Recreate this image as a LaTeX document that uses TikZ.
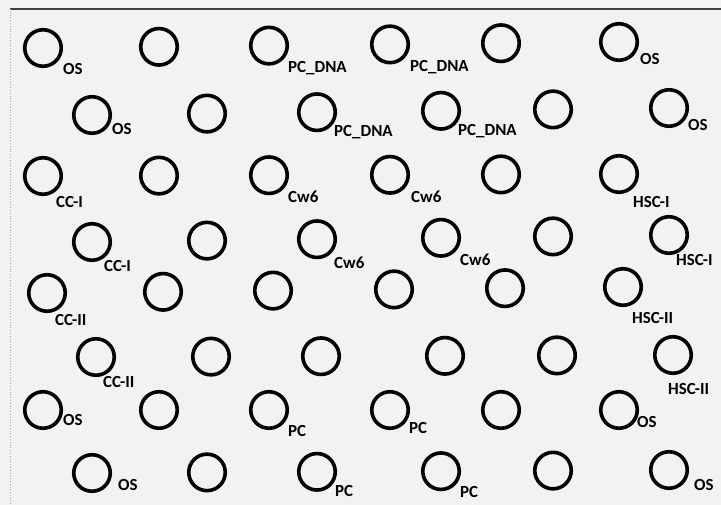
\documentclass[tikz,border=0pt]{standalone}
\usepackage{fontspec}
\setmainfont{Carlito}
\usepackage{tikz}

\tikzset{
    hole/.style={circle, draw=black, line width=3.6bp, minimum size=36.5bp, inner sep=0pt},
    tag/.style={anchor=west, inner sep=0pt, font=\bfseries\fontsize{17}{17}\selectfont}
}

\begin{document}
\begin{tikzpicture}[x=1bp, y=-1bp]

    % Fons
    \fill[black!5] (0,0) rectangle (721,505);
    \useasboundingbox (0,0) rectangle (721,505);

    % Vores
    \draw[black!75, line width=2bp] (10,9) -- (721,9);
    \draw[black!35, dotted, line width=0.8bp] (10,9) -- (10,505);

    % Pous
    \foreach \r/\yl/\yr/\dx in {1/48/42/0, 2/115/108/0, 3/176/174/0, 4/242/235/0,
                                5/293/287/4, 6/357/355/4, 7/410/410/0, 8/473/470/0}{
        \foreach \xo/\xe [count=\i] in {43/92, 159/207, 269/317, 390/441, 501/553, 619/669}{
            \ifodd\r\relax \def\bx{\xo}\else \def\bx{\xe}\fi
            \pgfmathsetmacro{\cx}{\bx + \dx}
            \pgfmathsetmacro{\cy}{\yl + (\yr-\yl)*(\i-1)/5}
            \node[hole] (c\r-\i) at (\cx,\cy) {};
        }
    }

    % Etiquetes
    \foreach \n/\ox/\oy/\t in {
        1-1/20/21/OS, 1-3/19/23/PC\_DNA, 1-4/20/23/PC\_DNA, 1-6/21/17/OS,
        2-1/20/14/OS, 2-3/17/20/PC\_DNA, 2-4/17/20/PC\_DNA, 2-6/19/17/OS,
        3-1/13/26/CC-I, 3-3/19/22/Cw6, 3-4/21/22/Cw6, 3-6/14/28/HSC-I,
        4-1/12/24/CC-I, 4-3/17/24/Cw6, 4-4/19/22/Cw6, 4-6/7/25/HSC-I,
        5-1/8/27/CC-II, 5-6/9/31/HSC-II,
        6-1/7/25/CC-II, 6-6/-5/34/HSC-II,
        7-1/20/10/OS, 7-3/19/21/PC, 7-4/19/18/PC, 7-6/18/12/OS,
        8-1/26/12/OS, 8-3/18/19/PC, 8-4/19/21/PC, 8-6/25/15/OS}
        \node[tag] (t\n) at ([shift={(\ox,\oy)}]c\n.center) {\t};

\end{tikzpicture}
\end{document}
